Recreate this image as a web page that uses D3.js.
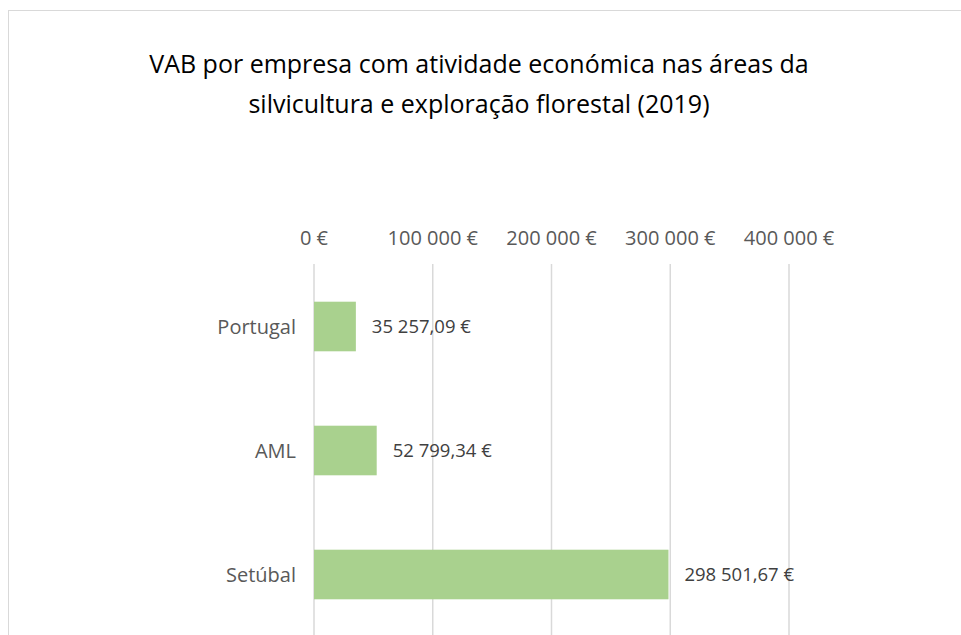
<!DOCTYPE html>
<meta charset="utf-8">
<style>
  body { margin: 0; background: #fff; }
  text { font-family: "Open Sans", sans-serif; }
</style>
<script src="https://cdn.jsdelivr.net/npm/d3@7"></script>
<svg id="chart" width="961" height="635"></svg>
<script>
  // data
  var categories = ["Portugal", "AML", "Setúbal"];
  var values = [35257.09, 52799.34, 298501.67];
  var tickValues = [0, 100000, 200000, 300000, 400000];
  var titleLines = ["VAB por empresa com atividade económica nas áreas da",
                    "silvicultura e exploração florestal (2019)"];

  var svg = d3.select("#chart");

  // chart frame
  svg.append("rect")
    .attr("x", 8.5).attr("y", 10.5)
    .attr("width", 1000).attr("height", 700)
    .attr("fill", "none").attr("stroke", "#d9d9d9");

  // title
  svg.append("g").selectAll("text")
    .data(titleLines)
    .enter().append("text")
    .attr("x", 479)
    .attr("y", (d, i) => 73 + i * 40)
    .attr("text-anchor", "middle")
    .attr("font-size", 25)
    .attr("fill", "#000")
    .text(d => d);

  // scales
  var x = d3.scaleLinear().domain([0, 400000]).range([314, 789]);
  var y = d3.scaleBand().domain(categories).range([264.5, 636.5])
    .paddingInner(0.6).paddingOuter(0.3);

  var fmt = d3.formatLocale({decimal: ",", thousands: " ", grouping: [3], currency: ["", " €"]});
  var fmtTick = v => fmt.format(",.0f")(v) + " €";
  var fmtVal = v => fmt.format(",.2f")(v) + " €";

  // gridlines
  svg.append("g").selectAll("line")
    .data(tickValues)
    .enter().append("line")
    .attr("x1", d => x(d)).attr("x2", d => x(d))
    .attr("y1", 264).attr("y2", 640)
    .attr("stroke", "#d9d9d9").attr("stroke-width", 1.5);

  // top axis labels
  svg.append("g").selectAll("text")
    .data(tickValues)
    .enter().append("text")
    .attr("x", d => x(d))
    .attr("y", 245)
    .attr("text-anchor", "middle")
    .attr("font-size", 20)
    .attr("fill", "#595959")
    .text(fmtTick);

  // bars
  svg.append("g").selectAll("rect")
    .data(values)
    .enter().append("rect")
    .attr("x", x(0))
    .attr("y", (d, i) => y(categories[i]))
    .attr("width", d => x(d) - x(0))
    .attr("height", y.bandwidth())
    .attr("fill", "#a9d18e");

  // category labels
  svg.append("g").selectAll("text")
    .data(categories)
    .enter().append("text")
    .attr("x", 296)
    .attr("y", d => y(d) + y.bandwidth() / 2)
    .attr("dy", "0.35em")
    .attr("text-anchor", "end")
    .attr("font-size", 20)
    .attr("fill", "#595959")
    .text(d => d);

  // value labels
  svg.append("g").selectAll("text")
    .data(values)
    .enter().append("text")
    .attr("x", d => x(d) + 16)
    .attr("y", (d, i) => y(categories[i]) + y.bandwidth() / 2)
    .attr("dy", "0.35em")
    .attr("font-size", 18.5)
    .attr("fill", "#404040")
    .text(fmtVal);
</script>
